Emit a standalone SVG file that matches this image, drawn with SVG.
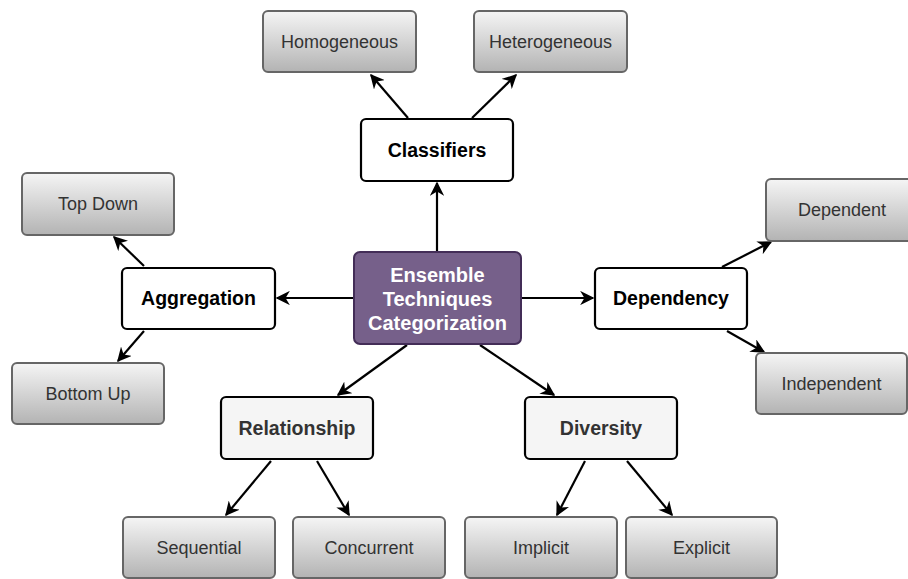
<svg xmlns="http://www.w3.org/2000/svg" width="908" height="579" viewBox="0 0 908 579">
<style>
.leaf rect{fill:url(#g);stroke:#666;stroke-width:2}
.leaf text{font-family:"Liberation Sans",Arial,sans-serif;font-size:18px;fill:#333;text-anchor:middle}
.mid rect{fill:#fff;stroke:#000;stroke-width:2.2}
.mid text{font-family:"Liberation Sans",Arial,sans-serif;font-size:19.5px;font-weight:bold;fill:#000;text-anchor:middle}
.mid2 rect{fill:#f5f5f5;stroke:#000;stroke-width:2.2}
.mid2 text{font-family:"Liberation Sans",Arial,sans-serif;font-size:19.5px;font-weight:bold;fill:#333;text-anchor:middle}
.ctr rect{fill:#76608a;stroke:#432d57;stroke-width:2}
.ctr text{font-family:"Liberation Sans",Arial,sans-serif;font-size:20px;font-weight:bold;fill:#fff;text-anchor:middle}
#edges line{stroke:#000;stroke-width:2.2;marker-end:url(#a)}
</style>
<defs>
<linearGradient id="g" x1="0" y1="0" x2="0" y2="1">
<stop offset="0" stop-color="#f5f5f5"/>
<stop offset="1" stop-color="#b3b3b3"/>
</linearGradient>
<marker id="a" viewBox="0 0 10 10" refX="9" refY="5" markerWidth="6.5" markerHeight="6.5" markerUnits="strokeWidth" orient="auto">
<path d="M0,0 L10,5 L0,10 L3,5 Z" fill="#000"/>
</marker>
</defs>
<g id="edges">
<line x1="437" y1="252" x2="437" y2="183"/>
<line x1="408" y1="118" x2="371" y2="75"/>
<line x1="472" y1="118" x2="516" y2="75"/>
<line x1="354" y1="298" x2="277" y2="298"/>
<line x1="144" y1="266" x2="114" y2="237"/>
<line x1="144" y1="331" x2="118" y2="361"/>
<line x1="521" y1="298" x2="593" y2="298"/>
<line x1="722" y1="267" x2="771" y2="242"/>
<line x1="727" y1="331" x2="764" y2="352"/>
<line x1="407" y1="345" x2="338" y2="395"/>
<line x1="480" y1="345" x2="554" y2="395"/>
<line x1="271" y1="461" x2="226" y2="515"/>
<line x1="317" y1="461" x2="349" y2="515"/>
<line x1="585" y1="461" x2="557" y2="515"/>
<line x1="627" y1="461" x2="672" y2="515"/>
</g>
<g id="center" class="ctr"><rect x="354" y="252" width="167" height="92" rx="6"/>
<text x="437.5" y="282">Ensemble</text><text x="437.5" y="306">Techniques</text><text x="437.5" y="330">Categorization</text></g>
<g id="classifiers" class="mid"><rect x="361" y="119" width="152" height="62" rx="5"/><text x="437" y="157">Classifiers</text></g>
<g id="aggregation" class="mid"><rect x="122" y="268" width="153" height="61" rx="5"/><text x="198.5" y="305">Aggregation</text></g>
<g id="dependency" class="mid"><rect x="595" y="268" width="152" height="61" rx="5"/><text x="671" y="305">Dependency</text></g>
<g id="relationship" class="mid2"><rect x="221" y="397" width="152" height="62" rx="5"/><text x="297" y="435">Relationship</text></g>
<g id="diversity" class="mid2"><rect x="525" y="397" width="152" height="62" rx="5"/><text x="601" y="435">Diversity</text></g>
<g id="homogeneous" class="leaf"><rect x="263" y="11" width="153" height="61" rx="5"/><text x="339.5" y="48">Homogeneous</text></g>
<g id="heterogeneous" class="leaf"><rect x="474" y="11" width="153" height="61" rx="5"/><text x="550.5" y="48">Heterogeneous</text></g>
<g id="topdown" class="leaf"><rect x="22" y="173" width="152" height="62" rx="5"/><text x="98" y="210">Top Down</text></g>
<g id="bottomup" class="leaf"><rect x="12" y="363" width="152" height="61" rx="5"/><text x="88" y="400">Bottom Up</text></g>
<g id="dependent" class="leaf"><rect x="766" y="179" width="152" height="62" rx="5"/><text x="842" y="216">Dependent</text></g>
<g id="independent" class="leaf"><rect x="756" y="353" width="151" height="61" rx="5"/><text x="831.5" y="390">Independent</text></g>
<g id="sequential" class="leaf"><rect x="123" y="517" width="152" height="61" rx="5"/><text x="199" y="554">Sequential</text></g>
<g id="concurrent" class="leaf"><rect x="293" y="517" width="152" height="61" rx="5"/><text x="369" y="554">Concurrent</text></g>
<g id="implicit" class="leaf"><rect x="465" y="517" width="152" height="61" rx="5"/><text x="541" y="554">Implicit</text></g>
<g id="explicit" class="leaf"><rect x="626" y="517" width="151" height="61" rx="5"/><text x="701.5" y="554">Explicit</text></g>
</svg>
